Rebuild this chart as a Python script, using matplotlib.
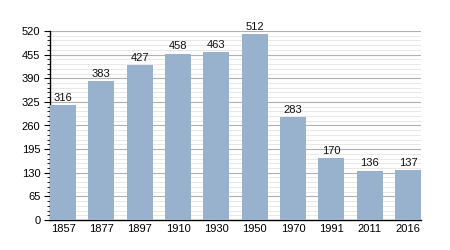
import numpy as np
import matplotlib
matplotlib.use("Agg")
import matplotlib.pyplot as plt
from matplotlib.ticker import MultipleLocator

plt.rcParams['font.family'] = ['Liberation Sans', 'DejaVu Sans']

# population by census year
years = ["1857", "1877", "1897", "1910", "1930", "1950", "1970", "1991", "2011", "2016"]
population = [316, 383, 427, 458, 463, 512, 283, 170, 136, 137]

fig = plt.figure(figsize=(4.5, 2.5), dpi=100)
ax = fig.add_axes([50 / 450, 30 / 250, 371 / 450, 189 / 250])

x = np.arange(len(years))
ax.bar(x, population, width=0.68, color="#98b1cc", zorder=3)

for xi, v in zip(x, population):
    ax.text(xi, v + 6, str(v), ha="center", va="bottom", fontsize=8, color="#111111")

ax.set_xlim(-0.34, len(years) - 1 + 0.34)
ax.set_ylim(0, 520)
ax.set_xticks(x)
ax.set_xticklabels(years)
ax.yaxis.set_major_locator(MultipleLocator(65))
ax.yaxis.set_minor_locator(MultipleLocator(13))

ax.grid(axis="y", which="major", color="#b0b0b0", lw=0.8, zorder=0)
ax.grid(axis="y", which="minor", color="#e4e4e4", lw=0.6, zorder=0)

for s in ["top", "right"]:
    ax.spines[s].set_visible(False)
ax.spines["left"].set_linewidth(1.0)
ax.spines["bottom"].set_linewidth(1.0)

ax.tick_params(axis="y", which="major", length=4, width=0.8, labelsize=8, pad=3)
ax.tick_params(axis="y", which="minor", length=2.5, width=0.6)
ax.tick_params(axis="x", length=0, labelsize=8, pad=3)

fig.savefig("out.png", dpi=100)
